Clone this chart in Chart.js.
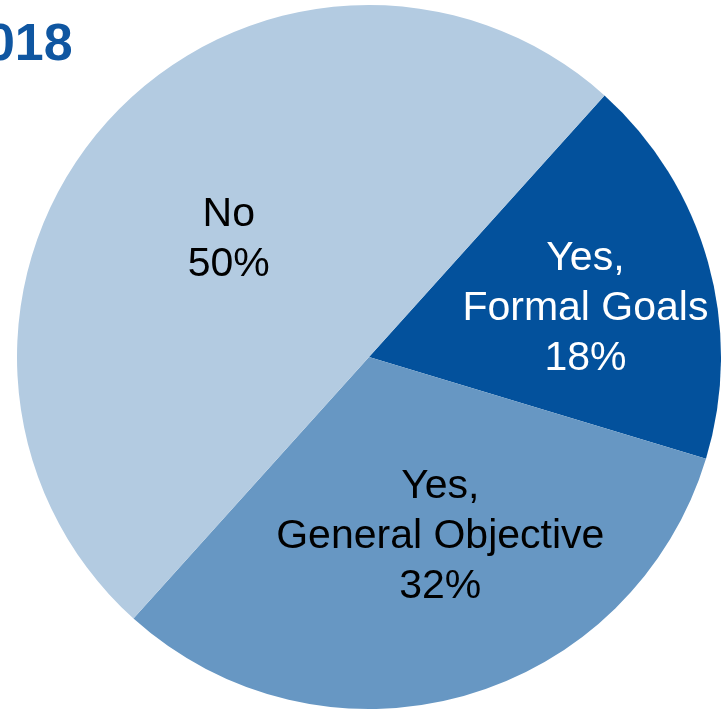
<!DOCTYPE html>
<html>
<head>
<meta charset="utf-8">
<script src="https://cdn.jsdelivr.net/npm/chart.js@4/dist/chart.umd.min.js"></script>
<style>
  html, body { margin: 0; padding: 0; background: #fff; overflow: hidden; }
  #wrap { position: relative; width: 725px; height: 710px; }
</style>
</head>
<body>
<div id="wrap"><canvas id="mycanvas"></canvas></div>
<script>
var titleText = "2018";
var labels = [["Yes,", "Formal Goals"], ["Yes,", "General Objective"], ["No"]];
var values = [18, 32, 50];
var colors = ["#03519c", "#6797c3", "#b3cbe1"];
var textColors = ["#ffffff", "#000000", "#000000"];

// where each label sits: share of radius, and small angle nudge (deg)
var labelPlace = [
	{ r: 0.63, da: 3 },
	{ r: 0.55, da: -6 },
	{ r: 0.52, da: -2 }
];

var sliceLabels = {
	id: "sliceLabels",
	afterDatasetsDraw: function(chart) {
		var ctx = chart.ctx;
		var meta = chart.getDatasetMeta(0);
		ctx.save();
		ctx.font = "41px 'Liberation Sans', Arial, sans-serif";
		ctx.textAlign = "center";
		ctx.textBaseline = "middle";
		meta.data.forEach(function(arc, i) {
			var p = labelPlace[i];
			var mid = (arc.startAngle + arc.endAngle) / 2 + p.da * Math.PI / 180;
			var dist = arc.outerRadius * p.r;
			var x = arc.x + Math.cos(mid) * dist;
			var y = arc.y + Math.sin(mid) * dist;
			var lines = labels[i].concat([values[i] + "%"]);
			var lh = 50;
			var top = y - (lines.length - 1) * lh / 2;
			ctx.fillStyle = textColors[i];
			for (var j = 0; j < lines.length; j++) {
				ctx.fillText(lines[j], x, top + j * lh);
			}
		});
		ctx.restore();
	}
};

var cornerTitle = {
	id: "cornerTitle",
	afterDraw: function(chart) {
		var ctx = chart.ctx;
		ctx.save();
		ctx.font = "bold 52px 'Liberation Sans', Arial, sans-serif";
		ctx.fillStyle = "#0f56a1";
		ctx.textAlign = "left";
		ctx.textBaseline = "alphabetic";
		ctx.fillText(titleText, -43, 60);
		ctx.restore();
	}
};

var ctx = document.getElementById("mycanvas");
var pieChart = new Chart(ctx, {
	type: "pie",
	data: {
		labels: labels.map(function(l) { return l.join(" "); }),
		datasets: [{
			data: values,
			backgroundColor: colors,
			borderWidth: 0
		}]
	},
	options: {
		responsive: true,
		maintainAspectRatio: false,
		animation: false,
		rotation: 42,
		layout: { padding: { left: 17, right: 4, top: 5, bottom: 1 } },
		plugins: {
			legend: { display: false },
			tooltip: { enabled: false }
		}
	},
	plugins: [sliceLabels, cornerTitle]
});
</script>
</body>
</html>
